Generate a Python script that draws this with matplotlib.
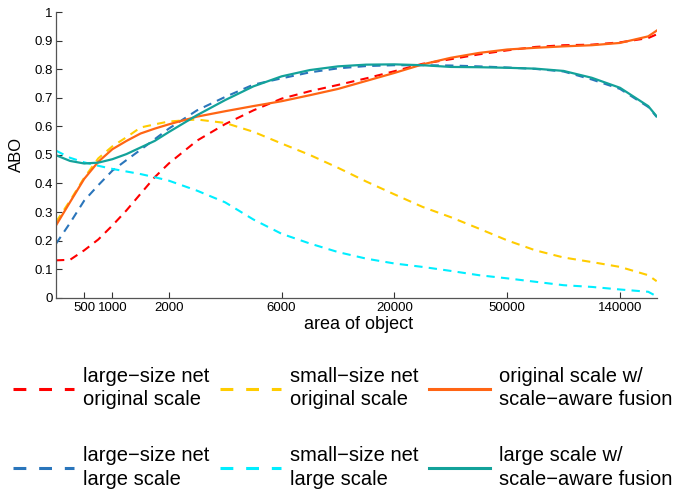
import matplotlib
matplotlib.use("Agg")
import matplotlib.pyplot as plt

plt.rcParams["font.family"] = ["Liberation Sans", "DejaVu Sans"]

# x positions are bin indices; the tick labels give the object area
bins = [0, 0.5, 1, 1.5, 2, 2.5, 3, 3.5, 4, 5, 6, 7, 8, 9, 10,
        11, 12, 13, 14, 15, 16, 17, 18, 19, 20, 21, 21.3]
tick_pos = [1, 2, 4, 8, 12, 16, 20]
tick_labels = ["500", "1000", "2000", "6000", "20000", "50000", "140000"]

large_net_orig = [0.131, 0.133, 0.166, 0.204, 0.253, 0.306, 0.364, 0.422, 0.470, 0.550,
                  0.608, 0.656, 0.697, 0.723, 0.745, 0.768, 0.793, 0.819, 0.835, 0.852,
                  0.866, 0.878, 0.884, 0.886, 0.894, 0.909, 0.922]
small_net_orig = [0.265, 0.340, 0.420, 0.488, 0.530, 0.562, 0.596, 0.607, 0.617, 0.624,
                  0.612, 0.581, 0.540, 0.500, 0.455, 0.407, 0.362, 0.318, 0.282, 0.242,
                  0.201, 0.166, 0.141, 0.125, 0.108, 0.079, 0.058]
orig_fusion = [0.253, 0.335, 0.416, 0.476, 0.520, 0.549, 0.575, 0.592, 0.607, 0.634,
               0.653, 0.671, 0.688, 0.709, 0.731, 0.759, 0.787, 0.817, 0.840, 0.857,
               0.869, 0.875, 0.880, 0.884, 0.892, 0.915, 0.935]
large_net_large = [0.189, 0.262, 0.340, 0.394, 0.445, 0.482, 0.518, 0.555, 0.592, 0.656,
                   0.703, 0.746, 0.768, 0.789, 0.803, 0.811, 0.814, 0.814, 0.813, 0.810,
                   0.806, 0.801, 0.792, 0.764, 0.731, 0.668, 0.633]
small_net_large = [0.515, 0.490, 0.474, 0.462, 0.451, 0.442, 0.433, 0.422, 0.410, 0.375,
                   0.334, 0.274, 0.224, 0.190, 0.160, 0.137, 0.120, 0.108, 0.094, 0.079,
                   0.068, 0.056, 0.044, 0.038, 0.029, 0.021, 0.005]
large_fusion = [0.499, 0.479, 0.470, 0.473, 0.485, 0.503, 0.526, 0.549, 0.580, 0.639,
                0.692, 0.740, 0.775, 0.797, 0.810, 0.816, 0.817, 0.814, 0.808, 0.807,
                0.805, 0.802, 0.794, 0.770, 0.735, 0.671, 0.635]

M = "\u2212"
fig = plt.figure(figsize=(6.76, 4.93), dpi=100)
ax = fig.add_axes([0.0828, 0.396, 0.8886, 0.5795])

dash = (0, (4, 3))
l_red, = ax.plot(bins, large_net_orig, color="#ff0000", lw=1.5, ls=dash,
                 label="large" + M + "size net\noriginal scale")
l_blue, = ax.plot(bins, large_net_large, color="#2a75bb", lw=1.5, ls=dash,
                  label="large" + M + "size net\nlarge scale")
l_yel, = ax.plot(bins, small_net_orig, color="#ffcc00", lw=1.5, ls=dash,
                 label="small" + M + "size net\noriginal scale")
l_cyan, = ax.plot(bins, small_net_large, color="#00eeff", lw=1.5, ls=dash,
                  label="small" + M + "size net\nlarge scale")
l_org, = ax.plot(bins, orig_fusion, color="#ff6514", lw=1.6,
                 label="original scale w/\nscale" + M + "aware fusion")
l_teal, = ax.plot(bins, large_fusion, color="#13a29a", lw=1.6,
                  label="large scale w/\nscale" + M + "aware fusion")

ax.set_xlim(0, 21.3)
ax.set_ylim(0, 1)
ax.set_xticks(tick_pos)
ax.set_xticklabels(tick_labels)
ax.set_yticks([i / 10 for i in range(11)])
ax.set_yticklabels(["0", "0.1", "0.2", "0.3", "0.4", "0.5", "0.6", "0.7", "0.8", "0.9", "1"])
ax.tick_params(direction="in", length=4, width=0.8, labelsize=9.5, color="#333333")
ax.tick_params(axis="y", pad=2.5)
ax.tick_params(axis="x", pad=3)
for s in ["top", "right"]:
    ax.spines[s].set_visible(False)
for s in ["left", "bottom"]:
    ax.spines[s].set_color("#555555")
    ax.spines[s].set_linewidth(0.9)

ax.set_ylabel("ABO", fontsize=12)
ax.yaxis.set_label_coords(-0.053, 0.5)
ax.set_xlabel("area of object", fontsize=13)
ax.xaxis.set_label_coords(0.503, -0.065)

leg = fig.legend(handles=[l_red, l_blue, l_yel, l_cyan, l_org, l_teal], ncol=3,
                 loc="upper left", bbox_to_anchor=(13 / 676, 1 - 367 / 493),
                 frameon=False, fontsize=14.5, borderpad=0, borderaxespad=0,
                 handlelength=3.03, handletextpad=0.45, columnspacing=0.52,
                 labelspacing=1.85)
for t in leg.get_texts():
    t.set_linespacing(1.28)
for h in leg.get_lines():
    h.set_linewidth(2.2)
    if h.get_linestyle() != "-":
        h.set_dashes((4.2, 4.2))

fig.savefig("out.png", dpi=100)
